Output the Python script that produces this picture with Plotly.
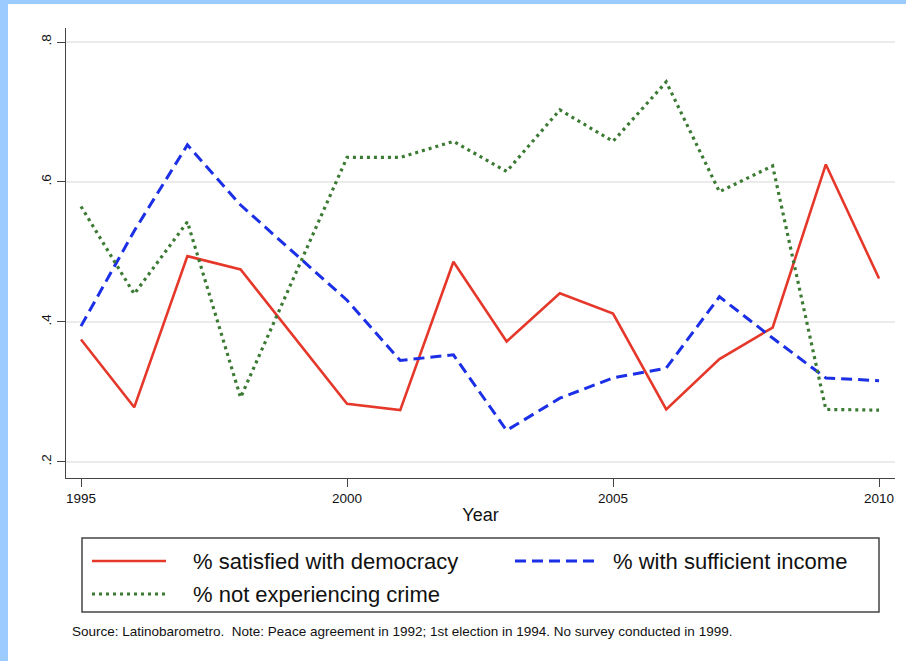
import plotly.graph_objects as go

# ---- data ----
years = [1995, 1996, 1997, 1998, 2000, 2001, 2002, 2003, 2004, 2005, 2006, 2007, 2008, 2009, 2010]
satisfied_democracy = [0.375, 0.278, 0.494, 0.475, 0.283, 0.274, 0.486, 0.372, 0.441, 0.412, 0.275, 0.347, 0.392, 0.625, 0.462]
sufficient_income = [0.394, 0.530, 0.653, 0.567, 0.431, 0.345, 0.353, 0.245, 0.291, 0.320, 0.334, 0.436, 0.377, 0.320, 0.316]
not_crime = [0.565, 0.440, 0.543, 0.292, 0.635, 0.635, 0.658, 0.615, 0.703, 0.658, 0.743, 0.586, 0.623, 0.275, 0.274]
series_names = ["% satisfied with democracy", "% with sufficient income", "% not experiencing crime"]
x_ticks = [1995, 2000, 2005, 2010]
y_ticks = [0.2, 0.4, 0.6, 0.8]
y_tick_labels = [".2", ".4", ".6", ".8"]
source_note = "Source: Latinobarometro.  Note: Peace agreement in 1992; 1st election in 1994. No survey conducted in 1999."

RED = "#e5382a"
BLUE = "#1b2fe6"
GREEN = "#3b7a33"
FONT = "Liberation Sans, Arial, Helvetica, sans-serif"

W, H = 906, 661
ML, MR, MT, MB = 66, 11, 28, 183
PW = W - ML - MR
PH = H - MT - MB


def px(xp):
    return (xp - ML) / PW


def py(yp):
    return (H - MB - yp) / PH


styles = [
    dict(color=RED, width=2.6, dash="solid"),
    dict(color=BLUE, width=3, dash="11px,6px"),
    dict(color=GREEN, width=3.2, dash="3px,4px"),
]
values = [satisfied_democracy, sufficient_income, not_crime]

fig = go.Figure()
for name, vals, st in zip(series_names, values, styles):
    fig.add_trace(go.Scatter(x=years, y=vals, mode="lines", name=name, line=st,
                             showlegend=False))

shapes = []
# blue frame strips
shapes.append(dict(type="rect", xref="paper", yref="paper", x0=px(0), x1=px(8), y0=py(H), y1=py(0),
                   fillcolor="#9cccff", line=dict(width=0), layer="above"))
shapes.append(dict(type="rect", xref="paper", yref="paper", x0=px(0), x1=px(W), y0=py(4), y1=py(0),
                   fillcolor="#9cccff", line=dict(width=0), layer="above"))
# legend box
shapes.append(dict(type="rect", xref="paper", yref="paper", x0=px(82), x1=px(879), y0=py(612), y1=py(538),
                   line=dict(color="#444444", width=1.5), fillcolor="rgba(0,0,0,0)"))

# legend entries (sample line x-range, text x, row y)
legend_pos = [
    (92, 166, 191, 561),
    (515, 598, 611, 561),
    (92, 168, 191, 594),
]
annotations = []
for name, st, (lx0, lx1, tx, ly) in zip(series_names, styles, legend_pos):
    shapes.append(dict(type="line", xref="paper", yref="paper", x0=px(lx0), x1=px(lx1), y0=py(ly), y1=py(ly),
                       line=dict(color=st["color"], width=st["width"], dash=st["dash"])))
    annotations.append(dict(xref="paper", yref="paper", x=px(tx), y=py(ly), text=name, showarrow=False,
                            xanchor="left", yanchor="middle", font=dict(size=22, color="#111111", family=FONT)))

annotations.append(dict(xref="paper", yref="paper", x=px(70), y=py(631), text=source_note, showarrow=False,
                        xanchor="left", yanchor="middle", font=dict(size=13.5, color="#111111", family=FONT)))

fig.update_layout(
    width=W, height=H,
    margin=dict(l=ML, r=MR, t=MT, b=MB, autoexpand=False),
    paper_bgcolor="white", plot_bgcolor="white",
    font=dict(family=FONT, color="#111111"),
    shapes=shapes, annotations=annotations,
    showlegend=False,
)
fig.update_xaxes(
    range=[1994.718, 2010.30], tickvals=x_ticks, ticks="outside", ticklen=8, tickwidth=1.3,
    tickcolor="#444444", showline=True, linecolor="#444444", linewidth=1.3, showgrid=False,
    zeroline=False, tickfont=dict(size=13.5, family=FONT),
    title=dict(text="Year", font=dict(size=18, family=FONT), standoff=3), automargin=False,
)
fig.update_yaxes(
    range=[0.177, 0.82], tickvals=y_ticks, ticktext=y_tick_labels, ticks="outside", ticklen=8,
    tickwidth=1.3, tickcolor="#444444", showline=True, linecolor="#444444", linewidth=1.3,
    showgrid=True, gridcolor="#ebebeb", gridwidth=1.5, zeroline=False, tickangle=-90,
    tickfont=dict(size=13.5, family=FONT), automargin=False,
)

fig.write_html("out.html", config={"displayModeBar": False},
               post_script="document.body.style.margin='0';document.body.style.padding='0';")
